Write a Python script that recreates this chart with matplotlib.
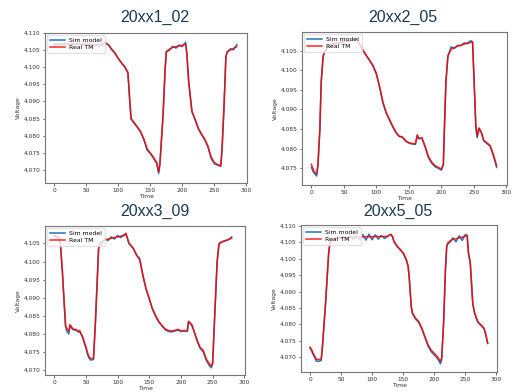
import matplotlib
matplotlib.use("Agg")
import matplotlib.pyplot as plt
from matplotlib.ticker import FormatStrFormatter, MultipleLocator

titles = ["20xx1_02", "20xx2_05", "20xx3_09", "20xx5_05"]

t1 = [0, 5, 10, 15, 20, 25, 30, 35, 40, 45, 50, 55, 60, 65, 70, 75, 80,
      85, 90, 95, 100, 105, 110, 115, 118, 120, 125, 130, 135, 140, 145, 150, 155, 160, 163, 165, 170, 173, 175,
      180, 185, 190, 195, 200, 205, 207, 210, 215, 220, 225, 230, 235, 240, 245, 250, 255, 260, 262, 265, 268, 270, 275, 280, 285]
real1 = [4.1068, 4.1068, 4.1067, 4.1068, 4.1068, 4.1067, 4.1068, 4.1068, 4.1067, 4.1067, 4.1068, 4.1067, 4.1067, 4.1066, 4.1067, 4.1068, 4.1072,
         4.1065, 4.1052, 4.1040, 4.1026, 4.1013, 4.1002, 4.0985, 4.0900, 4.0850, 4.0838, 4.0825, 4.0812, 4.0790, 4.0762, 4.0750, 4.0737, 4.0722, 4.0695, 4.0720, 4.0866, 4.0990, 4.1046,
         4.1053, 4.1058, 4.1060, 4.1062, 4.1064, 4.1068, 4.1040, 4.0955, 4.0872, 4.0848, 4.0822, 4.0805, 4.0790, 4.0770, 4.0738, 4.0722, 4.0716, 4.0712, 4.0760, 4.0880, 4.1030, 4.1046, 4.1050, 4.1055, 4.1060]
sim1 = [4.1068, 4.1067, 4.1068, 4.1067, 4.1068, 4.1068, 4.1067, 4.1068, 4.1066, 4.1068, 4.1067, 4.1068, 4.1066, 4.1064, 4.1061, 4.1066, 4.1070,
        4.1064, 4.1051, 4.1041, 4.1025, 4.1012, 4.1001, 4.0983, 4.0898, 4.0848, 4.0836, 4.0824, 4.0810, 4.0788, 4.0758, 4.0748, 4.0734, 4.0719, 4.0690, 4.0716, 4.0862, 4.0992, 4.1044,
        4.1050, 4.1061, 4.1056, 4.1065, 4.1060, 4.1073, 4.1042, 4.0957, 4.0870, 4.0846, 4.0820, 4.0803, 4.0788, 4.0767, 4.0733, 4.0718, 4.0714, 4.0711, 4.0758, 4.0882, 4.1028, 4.1043, 4.1054, 4.1051, 4.1066]

t2 = [0, 3, 5, 8, 10, 13, 15, 18, 20,
      25, 30, 35, 40, 45, 50, 55, 60, 65, 70,
      75, 80, 85, 90, 95, 100, 105, 110, 115, 120, 125, 130, 135, 140, 145, 150, 155, 160,
      163, 165, 170, 175, 180, 185, 190, 195, 200, 203, 205, 207, 210,
      215, 220, 225, 230, 235, 240, 245, 248, 250, 253, 255, 258, 262, 265, 270, 275, 280, 285]
real2 = [4.0760, 4.0745, 4.0740, 4.0735, 4.0760, 4.0850, 4.0970, 4.1037, 4.1048,
         4.1060, 4.1065, 4.1068, 4.1070, 4.1071, 4.1073, 4.1074, 4.1076, 4.1078, 4.1080,
         4.1065, 4.1050, 4.1037, 4.1024, 4.1010, 4.0990, 4.0958, 4.0919, 4.0893, 4.0875, 4.0858, 4.0842, 4.0832, 4.0830, 4.0820, 4.0815, 4.0813, 4.0812,
         4.0835, 4.0826, 4.0828, 4.0806, 4.0780, 4.0766, 4.0757, 4.0752, 4.0748, 4.0760, 4.0870, 4.0970, 4.1037,
         4.1054, 4.1058, 4.1062, 4.1064, 4.1067, 4.1070, 4.1071, 4.1072, 4.0990, 4.0860, 4.0832, 4.0853, 4.0840, 4.0822, 4.0815, 4.0808, 4.0785, 4.0757]
sim2 = [4.0752, 4.0740, 4.0736, 4.0730, 4.0755, 4.0848, 4.0968, 4.1035, 4.1046,
        4.1058, 4.1066, 4.1067, 4.1071, 4.1070, 4.1074, 4.1073, 4.1077, 4.1079, 4.1081,
        4.1064, 4.1049, 4.1036, 4.1025, 4.1012, 4.0992, 4.0956, 4.0917, 4.0891, 4.0873, 4.0856, 4.0841, 4.0831, 4.0829, 4.0819, 4.0814, 4.0812, 4.0811,
        4.0834, 4.0825, 4.0827, 4.0804, 4.0777, 4.0763, 4.0754, 4.0750, 4.0745, 4.0758, 4.0868, 4.0972, 4.1035,
        4.1060, 4.1056, 4.1064, 4.1063, 4.1070, 4.1068, 4.1076, 4.1073, 4.0988, 4.0855, 4.0828, 4.0851, 4.0838, 4.0820, 4.0813, 4.0806, 4.0782, 4.0752]

t3 = [0, 5, 8, 10, 13, 16, 18, 20, 23, 25, 28, 30, 35, 38, 40, 45, 48, 50, 53, 55, 58, 62, 65, 68, 70, 73, 75,
      80, 85, 90, 95, 100, 105, 110, 113, 115, 118, 120, 125, 130, 135, 140, 145, 150, 155, 160, 165, 170, 175, 180, 185, 190, 195, 200, 205, 210,
      212, 215, 217, 220, 225, 230, 235, 240, 245, 248, 250, 253, 257, 260, 265, 270, 275, 280]
real3 = [4.1070, 4.1068, 4.1065, 4.1045, 4.0971, 4.0879, 4.0823, 4.0815, 4.0808, 4.0826, 4.0818, 4.0814, 4.0812, 4.0808, 4.0810, 4.0792, 4.0775, 4.0765, 4.0746, 4.0737, 4.0732, 4.0733, 4.0833, 4.0953, 4.1036, 4.1050, 4.1054,
         4.1059, 4.1062, 4.1064, 4.1066, 4.1068, 4.1070, 4.1071, 4.1078, 4.1066, 4.1050, 4.1047, 4.1036, 4.1018, 4.1004, 4.0962, 4.0925, 4.0898, 4.0870, 4.0851, 4.0835, 4.0824, 4.0814, 4.0810, 4.0809, 4.0810, 4.0813, 4.0809, 4.0810, 4.0809,
         4.0835, 4.0830, 4.0826, 4.0812, 4.0786, 4.0764, 4.0755, 4.0731, 4.0717, 4.0712, 4.0722, 4.0843, 4.1000, 4.1050, 4.1055, 4.1058, 4.1061, 4.1064]
sim3 = [4.1072, 4.1066, 4.1067, 4.1043, 4.0969, 4.0877, 4.0820, 4.0808, 4.0800, 4.0824, 4.0815, 4.0812, 4.0810, 4.0805, 4.0808, 4.0790, 4.0772, 4.0762, 4.0742, 4.0733, 4.0728, 4.0730, 4.0830, 4.0950, 4.1034, 4.1052, 4.1050,
        4.1063, 4.1058, 4.1068, 4.1062, 4.1072, 4.1066, 4.1074, 4.1076, 4.1069, 4.1049, 4.1046, 4.1035, 4.1017, 4.1008, 4.0960, 4.0923, 4.0896, 4.0868, 4.0849, 4.0833, 4.0822, 4.0812, 4.0807, 4.0806, 4.0808, 4.0811, 4.0807, 4.0808, 4.0807,
        4.0834, 4.0828, 4.0824, 4.0810, 4.0783, 4.0761, 4.0751, 4.0727, 4.0712, 4.0707, 4.0718, 4.0840, 4.0998, 4.1048, 4.1054, 4.1057, 4.1060, 4.1068]

t4 = [0, 3, 5, 8, 10, 15, 18, 20, 25, 30, 32, 35,
      40, 45, 50, 55, 60, 65, 70, 75, 80, 85, 90, 95, 100, 105, 110, 115, 120, 125, 130, 133, 135,
      140, 145, 150, 155, 158, 160, 163, 165, 170, 175, 180, 185, 190, 195, 200, 205, 210, 212, 215, 218, 220, 222,
      225, 230, 235, 240, 245, 250, 253, 255, 258, 262, 265, 270, 275, 280, 283, 286]
real4 = [4.0731, 4.0722, 4.0712, 4.0702, 4.0694, 4.0693, 4.0695, 4.0733, 4.0865, 4.1018, 4.1049, 4.1059,
         4.1062, 4.1063, 4.1064, 4.1065, 4.1065, 4.1066, 4.1066, 4.1066, 4.1067, 4.1067, 4.1067, 4.1067, 4.1067, 4.1068, 4.1068, 4.1068, 4.1068, 4.1069, 4.1074, 4.1068, 4.1054,
         4.1039, 4.1029, 4.1018, 4.0998, 4.0978, 4.0937, 4.0855, 4.0835, 4.0819, 4.0809, 4.0789, 4.0763, 4.0738, 4.0722, 4.0712, 4.0702, 4.0687, 4.0700, 4.0804, 4.0967, 4.1039, 4.1049,
         4.1054, 4.1059, 4.1061, 4.1064, 4.1066, 4.1069, 4.1072, 4.1018, 4.0988, 4.0865, 4.0835, 4.0809, 4.0799, 4.0789, 4.0770, 4.0743]
sim4 = [4.0728, 4.0718, 4.0708, 4.0698, 4.0688, 4.0688, 4.0690, 4.0730, 4.0862, 4.1015, 4.1046, 4.1057,
        4.1060, 4.1064, 4.1062, 4.1068, 4.1061, 4.1070, 4.1059, 4.1072, 4.1058, 4.1074, 4.1057, 4.1075, 4.1058, 4.1073, 4.1060, 4.1071, 4.1062, 4.1068, 4.1075, 4.1066, 4.1053,
        4.1038, 4.1028, 4.1017, 4.0996, 4.0976, 4.0934, 4.0852, 4.0832, 4.0816, 4.0806, 4.0786, 4.0760, 4.0734, 4.0717, 4.0707, 4.0697, 4.0680, 4.0694, 4.0800, 4.0964, 4.1036, 4.1046,
        4.1050, 4.1064, 4.1052, 4.1070, 4.1056, 4.1074, 4.1070, 4.1020, 4.0986, 4.0862, 4.0833, 4.0807, 4.0797, 4.0787, 4.0768, 4.0742]

series = [(t1, sim1, real1), (t2, sim2, real2), (t3, sim3, real3), (t4, sim4, real4)]

W, H = 513, 392
fig = plt.figure(figsize=(W / 100, H / 100), dpi=100)
fig.patch.set_facecolor("white")

# pixel boxes: left, top, right, bottom
boxes = [(45, 33, 247, 183), (302, 32, 507, 185), (45, 226, 245, 375), (301, 225, 497, 372)]
ylims = [(4.0662, 4.1100), (4.0707, 4.1098), (4.0687, 4.1098), (4.0655, 4.1103)]
title_pos = [(155, 17), (403, 17), (155, 211), (398, 211)]

for i, ((t, sim, real), box) in enumerate(zip(series, boxes)):
    l, tp, r, b = box
    ax = fig.add_axes([l / W, 1 - b / H, (r - l) / W, (b - tp) / H])
    ax.plot(t, sim, color="#1f77b4", lw=1.1, label="Sim model")
    ax.plot(t, real, color="red", lw=1.1, alpha=0.85, label="Real TM")
    ax.set_xlim(-14.5, 301)
    ax.set_ylim(*ylims[i])
    ax.xaxis.set_major_locator(MultipleLocator(50))
    ax.yaxis.set_major_locator(MultipleLocator(0.005))
    ax.yaxis.set_major_formatter(FormatStrFormatter("%.3f"))
    ax.tick_params(labelsize=4.2, length=1.8, width=0.5, pad=1.5, colors="#333333")
    for s in ax.spines.values():
        s.set_linewidth(0.8)
        s.set_color("#777777")
    ax.set_xlabel("Time", fontsize=4.3, labelpad=1, color="#333333")
    ax.set_ylabel("Voltage", fontsize=4.3, labelpad=2, color="#333333")
    ax.legend(loc="upper left", fontsize=4.4, handlelength=2.6, borderpad=0.45,
              labelspacing=0.35, handletextpad=0.6, frameon=True, framealpha=0.8,
              edgecolor="#dddddd", borderaxespad=0.3)
    tx, ty = title_pos[i]
    fig.text(tx / W, 1 - ty / H, titles[i], ha="center", va="center",
             fontsize=11.5, family="Liberation Sans", color="#1b3a4f")

fig.savefig("out.png", dpi=100)
